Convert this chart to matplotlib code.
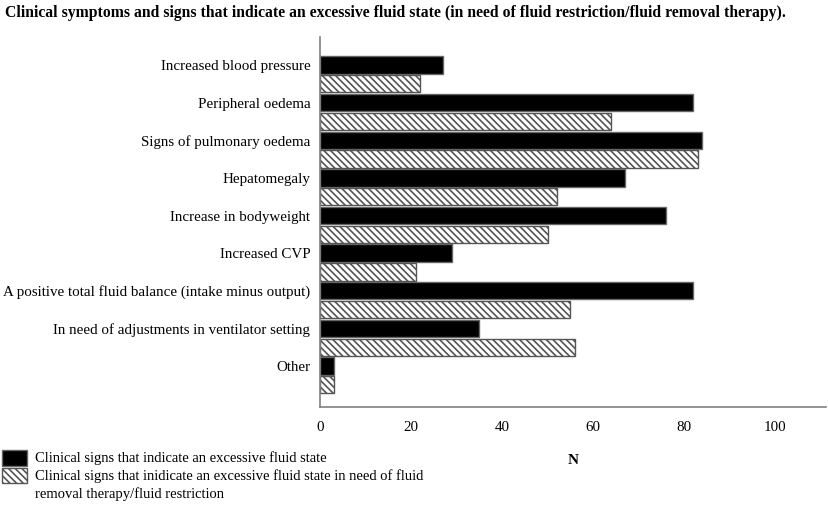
import matplotlib
matplotlib.use("Agg")
import matplotlib.pyplot as plt
from matplotlib.patches import Rectangle
import numpy as np

categories = [
    "Increased blood pressure",
    "Peripheral oedema",
    "Signs of pulmonary oedema",
    "Hepatomegaly",
    "Increase in bodyweight",
    "Increased CVP",
    "A positive total fluid balance (intake minus output)",
    "In need of adjustments in ventilator setting",
    "Other",
]
excessive = [27, 82, 84, 67, 76, 29, 82, 35, 3]
need_therapy = [22, 64, 83, 52, 50, 21, 55, 56, 3]
xticks = [0, 20, 40, 60, 80, 100]
series_labels = [
    "Clinical signs that indicate an excessive fluid state",
    "Clinical signs that inidicate an excessive fluid state in need of fluid\nremoval therapy/fluid restriction",
]
title = "Clinical symptoms and signs that indicate an excessive fluid state (in need of fluid restriction/fluid removal therapy)."

plt.rcParams['font.family'] = ['Liberation Serif', 'DejaVu Serif']
plt.rcParams['hatch.linewidth'] = 1.2
plt.rcParams['hatch.color'] = 'black'

W, H = 829, 508
fig = plt.figure(figsize=(W / 100, H / 100), dpi=100)
ax = fig.add_axes([320 / W, 1 - 407 / H, (826 - 320) / W, (407 - 37) / H])

y = np.arange(len(categories))
bh = 0.46
ax.barh(y, excessive, height=bh, color='black', edgecolor='#666666', linewidth=1.0)
ax.barh(y + 0.5, need_therapy, height=bh, color='white', edgecolor='#555555',
        linewidth=1.0, hatch='\\\\\\\\\\')

ax.set_ylim(len(categories) - 0.5 + 0.59, -0.745)
ax.set_xlim(0, 111.2)
ax.set_yticks(y)
ax.set_yticklabels(categories, fontsize=10.85)
ax.set_xticks(xticks)
ax.set_xticklabels([str(v) for v in xticks], fontsize=10.8)
ax.tick_params(axis='both', length=0)
ax.tick_params(axis='x', pad=10)
ax.tick_params(axis='y', pad=7)
for s in ['top', 'right']:
    ax.spines[s].set_visible(False)
for s in ['left', 'bottom']:
    ax.spines[s].set_color('#808080')
    ax.spines[s].set_linewidth(1.2)

fig.text(573 / W, 1 - 460 / H, "N", ha='center', va='center', fontsize=11, fontweight='bold')
fig.text(5 / W, 1 - 13 / H, title, ha='left', va='center', fontsize=11.3, fontweight='bold')

# legend
fig.patches.append(Rectangle((2 / W, 1 - 466 / H), 25 / W, 16 / H, transform=fig.transFigure,
                             facecolor='black', edgecolor='#666666', linewidth=1.0))
fig.patches.append(Rectangle((2 / W, 1 - 483 / H), 25 / W, 15 / H, transform=fig.transFigure,
                             facecolor='white', edgecolor='#555555', linewidth=1.0,
                             hatch='\\\\\\\\\\'))
fig.text(35 / W, 1 - 458 / H, series_labels[0], ha='left', va='center', fontsize=10.55)
fig.text(35 / W, 1 - 469 / H, series_labels[1], ha='left', va='top', fontsize=10.55,
         linespacing=1.4)

fig.savefig("out.png", dpi=100)
